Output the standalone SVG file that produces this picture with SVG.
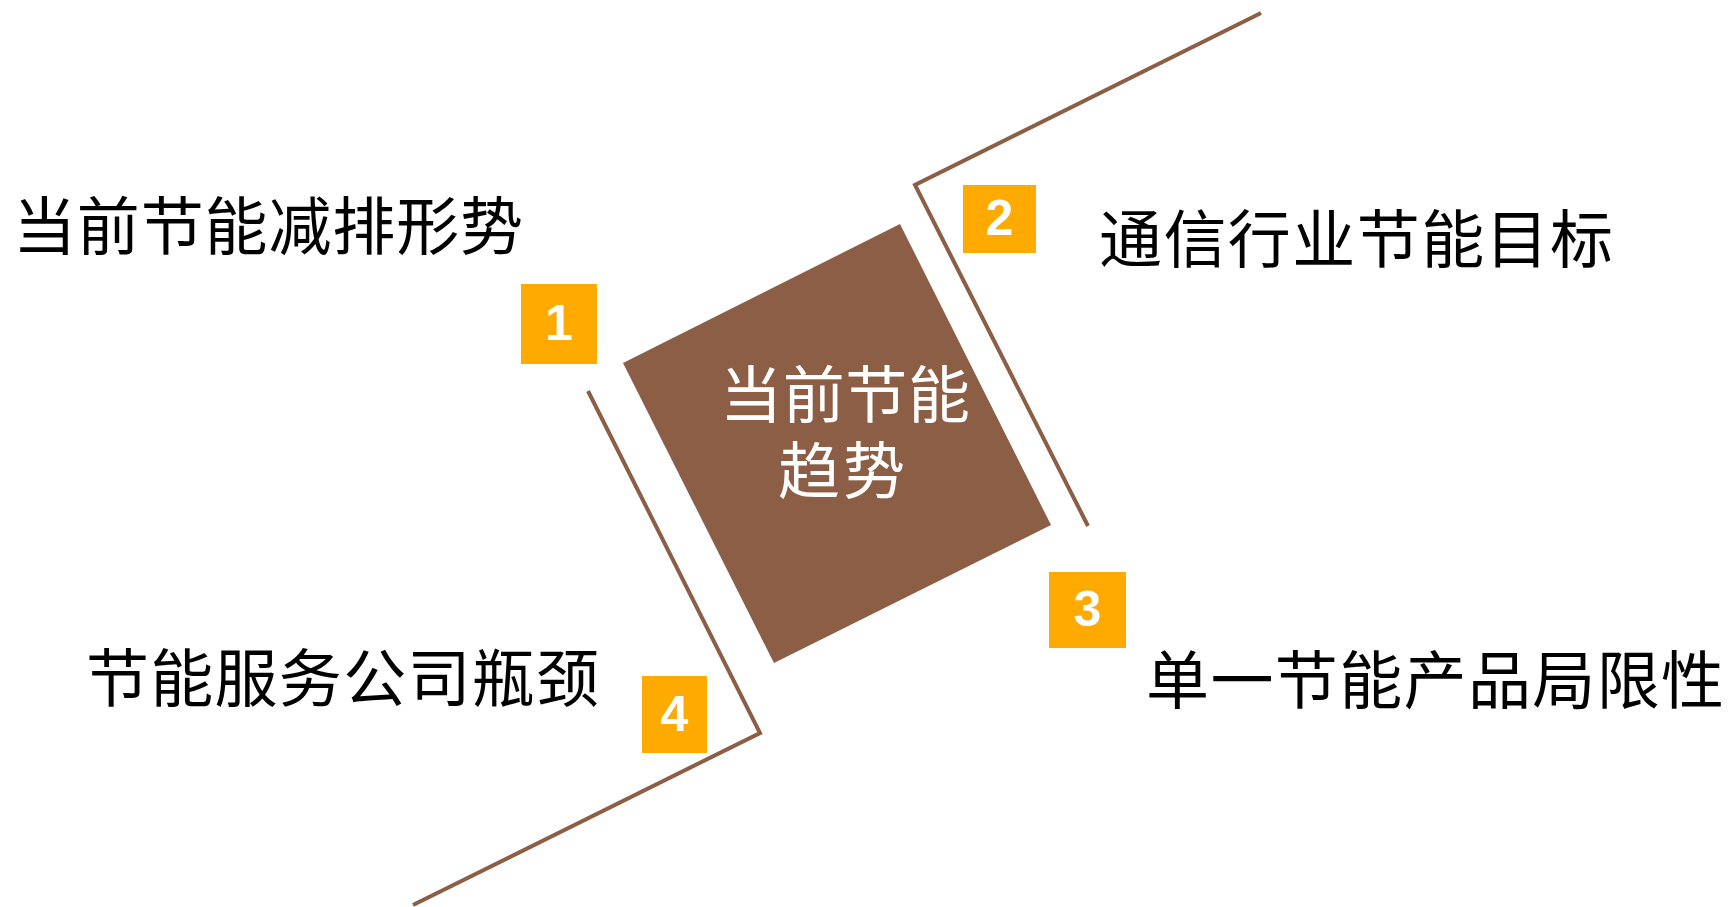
<svg xmlns="http://www.w3.org/2000/svg" width="1729" height="907" viewBox="0 0 1729 907">
<style>
.lbl{font-family:"Noto Sans CJK SC","Liberation Sans",sans-serif;font-size:63px;fill:#000}
.ctr{font-family:"Noto Sans CJK SC","Liberation Sans",sans-serif;font-size:62px;fill:#fff}
.badge{fill:#FFAA00}
.num{font-family:"Liberation Sans",Arial,sans-serif;font-weight:bold;font-size:50px;fill:#fff;text-anchor:middle}
.conn{fill:none;stroke:#8B5E45;stroke-width:4}
</style>
<rect width="1729" height="907" fill="#fff"/>
<g id="connectors">
<polyline class="conn" points="588,391 760,733 413,905"/>
<polyline class="conn" points="1261,13 915,185 1088,526"/>
</g>
<g id="center">
<polygon points="900,224 1051,525 774,663 623,363" fill="#8B5E45"/>
<text class="ctr"><tspan x="720" y="418" textLength="250" lengthAdjust="spacing">当前节能</tspan><tspan x="778" y="494" textLength="127" lengthAdjust="spacing">趋势</tspan></text>
</g>
<g id="item1">
<rect class="badge" x="521" y="284" width="76" height="80"/>
<text class="num" x="559" y="340">1</text>
<text class="lbl" x="13" y="249" textLength="510" lengthAdjust="spacing">当前节能减排形势</text>
</g>
<g id="item2">
<rect class="badge" x="963" y="185" width="73" height="68"/>
<text class="num" x="999.5" y="235">2</text>
<text class="lbl" x="1099" y="262" textLength="514" lengthAdjust="spacing">通信行业节能目标</text>
</g>
<g id="item3">
<rect class="badge" x="1049" y="572" width="77" height="76"/>
<text class="num" x="1087.5" y="626">3</text>
<text class="lbl" x="1146" y="703" textLength="578" lengthAdjust="spacing">单一节能产品局限性</text>
</g>
<g id="item4">
<rect class="badge" x="642" y="676" width="65" height="77"/>
<text class="num" x="674.5" y="731">4</text>
<text class="lbl" x="86" y="701" textLength="513" lengthAdjust="spacing">节能服务公司瓶颈</text>
</g>
</svg>
